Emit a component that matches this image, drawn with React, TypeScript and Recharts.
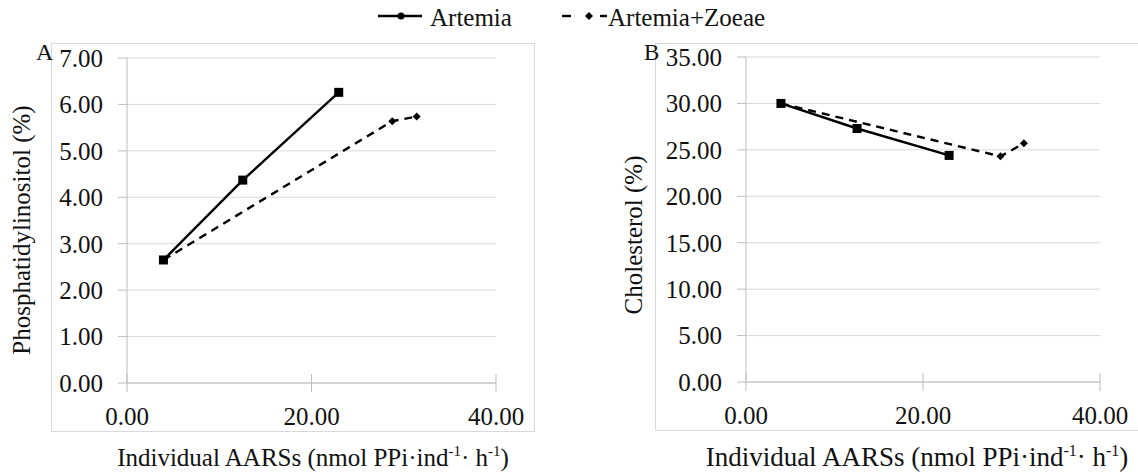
import React from 'react';
import { LineChart, Line, XAxis, YAxis, CartesianGrid, Label } from 'recharts';

// individual AARS activity (x) per treatment
const artemiaAars = [3.95, 12.55, 22.95];
const zoeaeAars = [3.95, 28.75, 31.4];

// panel A: phosphatidylinositol (%)
const artemiaPI = [2.65, 4.37, 6.26];
const zoeaePI = [2.65, 5.64, 5.74];

// panel B: cholesterol (%)
const artemiaChol = [30.0, 27.3, 24.4];
const zoeaeChol = [30.0, 24.3, 25.7];

const xTicks = [0, 20, 40];
const piTicks = [0, 1, 2, 3, 4, 5, 6, 7];
const cholTicks = [0, 5, 10, 15, 20, 25, 30, 35];
const seriesNames = ['Artemia', 'Artemia+Zoeae'];

const FONT = 'Liberation Serif';
const INK = '#111';
const GRID = '#d9d9d9';
const AXIS = '#bdbdbd';

const zip = (xs: number[], ys: number[]) => xs.map((x, i) => ({ x, y: ys[i] }));

const Square = (props: any) => {
  const { cx, cy, index } = props;
  if (cx == null || cy == null) return <g key={`s${index}`} />;
  return <rect key={`s${index}`} x={cx - 4.5} y={cy - 4.5} width={9} height={9} fill="#000" />;
};

const Diamond = (props: any) => {
  const { cx, cy, index } = props;
  if (cx == null || cy == null) return <g key={`d${index}`} />;
  return (
    <polygon
      key={`d${index}`}
      points={`${cx},${cy - 4} ${cx + 4},${cy} ${cx},${cy + 4} ${cx - 4},${cy}`}
      fill="#000"
    />
  );
};

const XTick = (props: any) => {
  const { x, y, payload } = props;
  return (
    <g>
      <line x1={x} x2={x} y1={y - 9} y2={y + 9} stroke={AXIS} />
      <text x={x} y={y + 42} textAnchor="middle" fontSize={25} fill={INK} fontFamily={FONT}>
        {Number(payload.value).toFixed(2)}
      </text>
    </g>
  );
};

const XTitle = ({ cx, size }: { cx: number; size: number }) => {
  const sup = Math.round(size * 0.6);
  const up = -Math.round(size * 0.38);
  return (
    <text x={cx} y={423} textAnchor="middle" fontSize={size} fill={INK} fontFamily={FONT}>
      Individual AARSs (nmol PPi·ind
      <tspan dy={up} fontSize={sup}>-1</tspan>
      <tspan dy={-up}>· h</tspan>
      <tspan dy={up} fontSize={sup}>-1</tspan>
      <tspan dy={-up}>)</tspan>
    </text>
  );
};

interface PanelProps {
  artemia: number[];
  zoeae: number[];
  yTicks: number[];
  yTitle: string;
  width: number;
  yAxisWidth: number;
  margin: { top: number; right: number; bottom: number; left: number };
  xAxisHeight: number;
  yTitlePos: [number, number];
  xTitleX: number;
  xTitleSize: number;
}

function Panel({
  artemia,
  zoeae,
  yTicks,
  yTitle,
  width,
  yAxisWidth,
  margin,
  xAxisHeight,
  yTitlePos,
  xTitleX,
  xTitleSize
}: PanelProps) {
  const yMax = yTicks[yTicks.length - 1];
  return (
    <LineChart width={width} height={431} margin={margin}>
      <CartesianGrid vertical={false} stroke={GRID} />
      <XAxis
        type="number"
        dataKey="x"
        domain={[0, 40]}
        ticks={xTicks}
        interval={0}
        height={xAxisHeight}
        axisLine={{ stroke: AXIS }}
        tickLine={false}
        tickSize={0}
        tickMargin={0}
        tick={<XTick />}
      >
        <Label content={() => <XTitle cx={xTitleX} size={xTitleSize} />} />
      </XAxis>
      <YAxis
        type="number"
        domain={[0, yMax]}
        ticks={yTicks}
        interval={0}
        width={yAxisWidth}
        axisLine={{ stroke: AXIS }}
        tickLine={{ stroke: AXIS }}
        tickSize={9}
        tickMargin={15}
        tick={{ fontSize: 25, fill: INK, fontFamily: FONT }}
        tickFormatter={(v: number) => v.toFixed(2)}
      >
        <Label
          content={() => (
            <text
              transform={`translate(${yTitlePos[0]}, ${yTitlePos[1]}) rotate(-90)`}
              textAnchor="middle"
              dominantBaseline="central"
              fontSize={25}
              fill={INK}
              fontFamily={FONT}
            >
              {yTitle}
            </text>
          )}
        />
      </YAxis>
      <Line
        data={zip(artemiaAars, artemia)}
        dataKey="y"
        name={seriesNames[0]}
        stroke="#000"
        strokeWidth={2.4}
        dot={Square}
        activeDot={false}
        isAnimationActive={false}
      />
      <Line
        data={zip(zoeaeAars, zoeae)}
        dataKey="y"
        name={seriesNames[1]}
        stroke="#000"
        strokeWidth={2.4}
        strokeDasharray="8 6"
        dot={Diamond}
        activeDot={false}
        isAnimationActive={false}
      />
    </LineChart>
  );
}

export default function App() {
  return (
    <div
      style={{
        position: 'absolute',
        left: 0,
        top: 0,
        width: 1138,
        height: 474,
        background: '#fff',
        overflow: 'hidden',
        fontFamily: FONT
      }}
    >
      {/* panel frames */}
      <div style={{ position: 'absolute', left: 51, top: 43, width: 484, height: 389, border: `1px solid ${GRID}`, boxSizing: 'border-box' }} />
      <div style={{ position: 'absolute', left: 655, top: 43, width: 500, height: 388, border: `1px solid ${GRID}`, boxSizing: 'border-box' }} />

      <div style={{ position: 'absolute', left: 0, top: 43 }}>
        <Panel
          artemia={artemiaPI}
          zoeae={zoeaePI}
          yTicks={piTicks}
          yTitle="Phosphatidylinositol (%)"
          width={535}
          yAxisWidth={127}
          margin={{ top: 15, right: 39, bottom: 0, left: 0 }}
          xAxisHeight={91}
          yTitlePos={[21, 187]}
          xTitleX={313}
          xTitleSize={25}
        />
      </div>
      <div style={{ position: 'absolute', left: 600, top: 43 }}>
        <Panel
          artemia={artemiaChol}
          zoeae={zoeaeChol}
          yTicks={cholTicks}
          yTitle="Cholesterol (%)"
          width={538}
          yAxisWidth={146}
          margin={{ top: 14, right: 38, bottom: 0, left: 0 }}
          xAxisHeight={92}
          yTitlePos={[33, 192]}
          xTitleX={317}
          xTitleSize={27}
        />
      </div>

      {/* shared legend and panel letters */}
      <svg width={1138} height={474} style={{ position: 'absolute', left: 0, top: 0, pointerEvents: 'none' }}>
        <line x1={378} x2={422} y1={16} y2={16} stroke="#000" strokeWidth={2.4} />
        <circle cx={401} cy={16} r={3.5} fill="#000" />
        <text x={430} y={26} fontSize={25} fill={INK} fontFamily={FONT}>{seriesNames[0]}</text>

        <line x1={562} x2={571} y1={16} y2={16} stroke="#000" strokeWidth={2.4} />
        <polygon points="589,12 593,16 589,20 585,16" fill="#000" />
        <line x1={600} x2={607} y1={16} y2={16} stroke="#000" strokeWidth={2.4} />
        <text x={608} y={26} fontSize={25} fill={INK} fontFamily={FONT}>{seriesNames[1]}</text>

        <text x={36} y={60} fontSize={24} fill={INK} fontFamily={FONT}>A</text>
        <text x={644} y={60} fontSize={23} fill={INK} fontFamily={FONT}>B</text>
      </svg>
    </div>
  );
}
